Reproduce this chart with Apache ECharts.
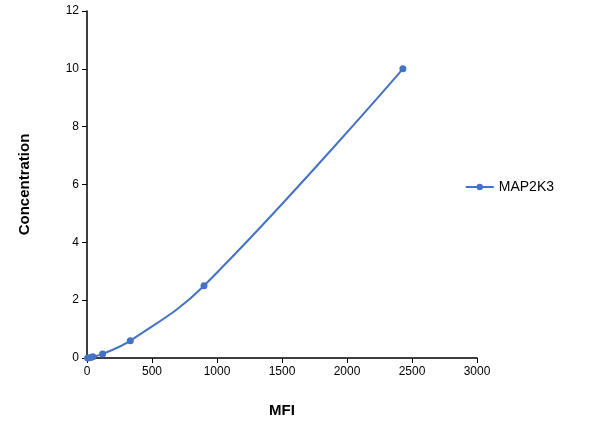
<!DOCTYPE html>
<html><head><meta charset="utf-8">
<script src="https://cdn.jsdelivr.net/npm/echarts@6/dist/echarts.min.js"></script>
<style>html,body{margin:0;padding:0;background:#fff}#c{width:589px;height:435px}</style>
</head><body><div id="c"></div>
<script>
const seriesName = 'MAP2K3';
const mfi = [5, 28, 45, 120, 333, 900, 2430];
const conc = [0, 0.02, 0.04, 0.14, 0.6, 2.5, 10];
const chart = echarts.init(document.getElementById('c'));
const axisCommon = {
  axisLine: {show: true, lineStyle: {color: '#000', width: 1.5}},
  axisTick: {show: true, inside: false, length: 5, lineStyle: {color: '#000'}},
  splitLine: {show: false},
  axisLabel: {color: '#000', fontSize: 12, fontFamily: 'Liberation Sans', formatter: v => String(v)},
  nameTextStyle: {color: '#000', fontSize: 15, fontWeight: 'bold', fontFamily: 'Liberation Sans'},
  nameLocation: 'middle'
};
chart.setOption({
  animation: false,
  grid: {left: 87, right: 112, top: 11, bottom: 77},
  legend: {right: 30, top: 175, orient: 'vertical', itemWidth: 28, itemHeight: 8,
    textStyle: {fontSize: 14, color: '#000', fontFamily: 'Liberation Sans'}, data: [seriesName]},
  xAxis: Object.assign({type: 'value', min: 0, max: 3000, interval: 500, name: 'MFI', nameGap: 45}, axisCommon),
  yAxis: Object.assign({type: 'value', min: 0, max: 12, interval: 2, name: 'Concentration', nameGap: 55}, axisCommon),
  series: [{
    name: seriesName, type: 'line', smooth: 0.4,
    data: mfi.map((x, i) => [x, conc[i]]),
    symbol: 'circle', symbolSize: 7,
    itemStyle: {color: '#4472C4'}, lineStyle: {color: '#4472C4', width: 2}
  }]
});
</script></body></html>
